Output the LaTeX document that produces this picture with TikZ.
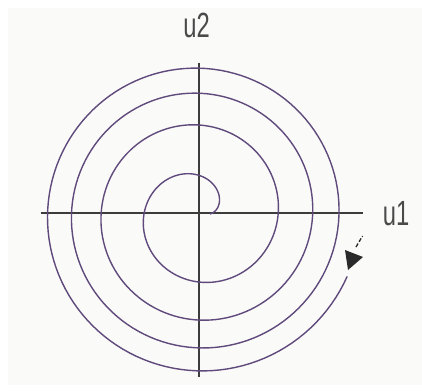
\documentclass[tikz,border=0pt]{standalone}
\usepackage{fontspec}
\setmainfont{Liberation Sans}
\definecolor{spiralc}{HTML}{604A7C}
\definecolor{axisc}{HTML}{3C3C3C}
\definecolor{arrowc}{HTML}{2A2A2A}
\definecolor{bgc}{HTML}{FAFAF9}
\definecolor{textc}{HTML}{4A4A4A}
\begin{document}
\begin{tikzpicture}[x=1pt,y=-1pt,
  axisline/.style={draw=axisc,line width=1.6pt},
  spiralline/.style={draw=spiralc,line width=1.4pt,line join=round},
  axislabel/.style={text=textc,font=\fontsize{35}{35}\selectfont,xscale=0.68,anchor=base,inner sep=0pt}]
\useasboundingbox (0,0) rectangle (422,391);
\fill[white] (0,0) rectangle (422,391);
\fill[bgc] (8,8) rectangle (422,385);
% axes
\coordinate (xl) at (40.5,212.7);
\coordinate (xr) at (363,212.7);
\coordinate (yt) at (199,62.5);
\coordinate (yb) at (199,377);
\draw[axisline] (xl) -- (xr);
\draw[axisline] (yt) -- (yb);
% spiral
\coordinate (c) at (199,214);
\draw[spiralline] plot[domain=0:3.943,samples=500,variable=\t]
  ({199+10*sqrt(66.8*\t-4.4+5.6*exp(-3*\t))*cos(360*\t)},
   {214-10*sqrt(66.8*\t-4.4+5.6*exp(-3*\t))*sin(360*\t)});
% arrowhead at the end
\coordinate (a1) at (345,250);
\coordinate (a2) at (363,257);
\coordinate (a3) at (348,270);
\fill[arrowc] (a1) -- (a2) -- (a3) -- cycle;
\coordinate (d1) at (356,247);
\coordinate (d2) at (362.5,236);
\draw[arrowc,line width=1.3pt,dash pattern=on 4pt off 2pt] (d1) -- (d2);
% labels
\node[axislabel] (u2) at (196.5,37) {u2};
\node[axislabel] (u1) at (396,225) {u1};
\end{tikzpicture}
\end{document}
